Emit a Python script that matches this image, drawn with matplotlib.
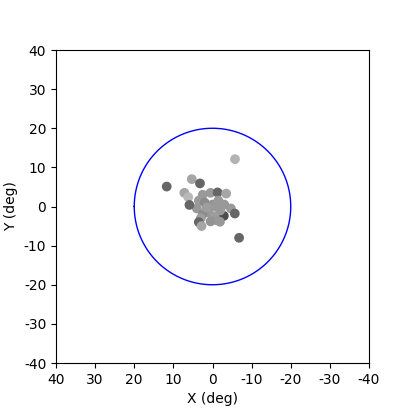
import numpy as np
import matplotlib
matplotlib.use("Agg")
import matplotlib.pyplot as plt

plt.rcParams["axes.unicode_minus"] = False

# star positions (deg) and grey level of each marker
x_deg = [-2.9, 0.5, -1.3, -3.5, 2.5, 3.5, 4.0, 2.0, 0.0, -1.5, -3.0, -2.0, 1.0,
         2.5, -0.5, -1.0, 0.5, -1.9, -4.7, -5.7, 1.5, -0.8, 3.0,
         -5.75, 11.7, 5.3, 3.2, 7.2, 6.2, 5.9, -6.8, 3.5, 2.8]
y_deg = [-2.4, 3.5, 3.6, 3.3, 3.0, 1.5, -0.5, 1.0, 0.5, 1.5, 0.5, -1.0, -1.5,
         -2.0, -2.5, -3.5, -3.8, -3.9, -0.5, -1.8, -0.3, 0.0, -3.0,
         12.1, 5.1, 7.0, 5.9, 3.5, 2.4, 0.4, -8.0, -4.0, -5.0]
grey = [0.3, 0.6, 0.4, 0.65, 0.6, 0.6, 0.6, 0.55, 0.58, 0.6, 0.6, 0.6, 0.6,
        0.55, 0.62, 0.6, 0.58, 0.6, 0.6, 0.4, 0.62, 0.6, 0.62,
        0.7, 0.4, 0.65, 0.4, 0.65, 0.72, 0.4, 0.4, 0.4, 0.65]
fov_radius = 20
ticks = [40, 30, 20, 10, 0, -10, -20, -30, -40]

fig = plt.figure(figsize=(4.15, 4.15), dpi=100)
ax = fig.add_axes([56 / 415, 52 / 415, 313 / 415, 313 / 415])

cols = [(g, g, g) for g in grey]
ax.scatter(x_deg, y_deg, c=cols, s=36)

t = np.linspace(0, 2 * np.pi, 400)
ax.plot(fov_radius * np.cos(t), fov_radius * np.sin(t), color="blue", lw=1)

ax.set_xlim(40, -40)
ax.set_ylim(-40, 40)
ax.set_xticks(ticks)
ax.set_yticks(ticks)
ax.set_aspect("equal")
ax.set_xlabel("X (deg)")
ax.set_ylabel("Y (deg)")

fig.savefig("out.png", dpi=100)
